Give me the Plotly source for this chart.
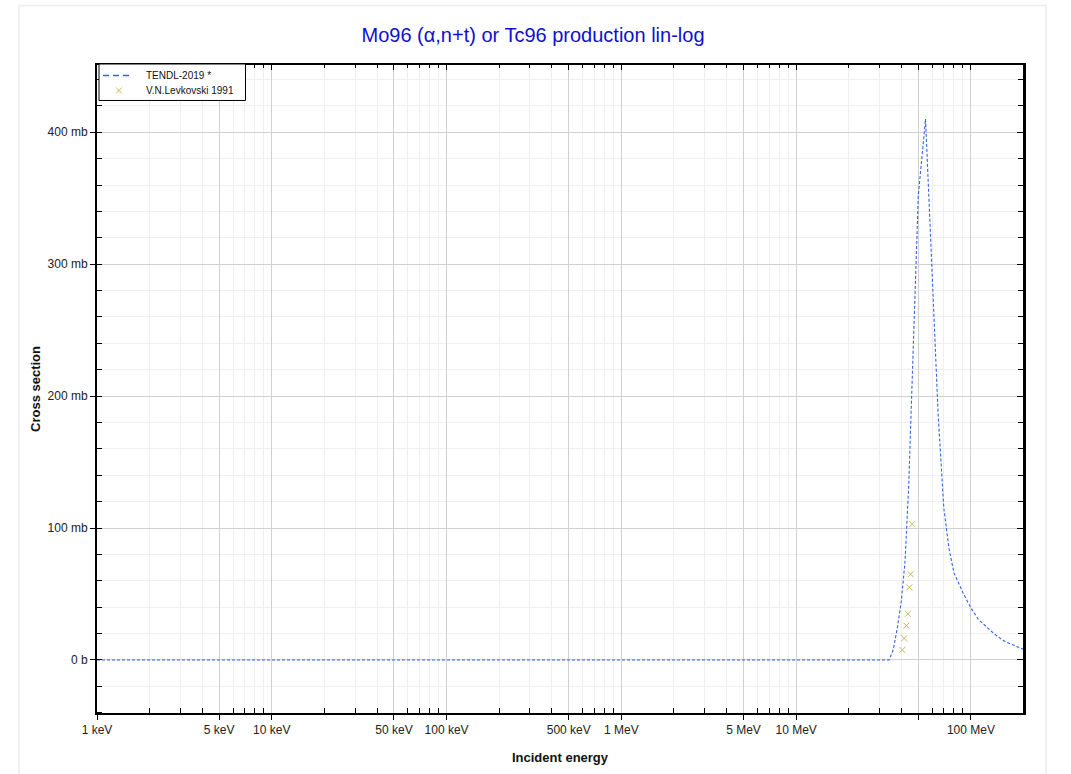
import numpy as np
import plotly.graph_objects as go

# TENDL-2019 evaluated cross section (energy in MeV, cross section in mb)
tendl_energy_mev = [0.001, 34, 36, 38, 40, 42, 44, 46, 48, 50, 55, 60, 65, 70, 75, 80,
                    85, 90, 95, 100, 110, 120, 130, 140, 150, 160, 180, 200]
tendl_xs_mb = [0, 0, 8, 25, 45, 75, 130, 205, 290, 352, 410, 290, 185, 115, 84, 66,
               58, 51, 45, 39.5, 31, 26, 22, 18.5, 15.5, 13.5, 10.5, 8]

# V.N.Levkovski 1991 experimental points
exp_energy_mev = [40.5, 41.5, 42.7, 43.6, 44.4, 45.2, 46.15]
exp_xs_mb = [7.6, 16.4, 26, 35, 55, 65, 103]

series_names = ["TENDL-2019 *", "V.N.Levkovski 1991"]

# axis ticks
x_tick_vals_ev = [1e3, 5e3, 1e4, 5e4, 1e5, 5e5, 1e6, 5e6, 1e7, 5e7, 1e8]
x_tick_text = ["1 keV", "5 keV", "10 keV", "50 keV", "100 keV", "500 keV",
               "1 MeV", "5 MeV", "10 MeV", "", "100 MeV"]
y_tick_vals_b = [0, 0.1, 0.2, 0.3, 0.4]
y_tick_text = ["0 b", "100 mb", "200 mb", "300 mb", "400 mb"]

x_minor = [m * 10.0 ** d for d in range(3, 9) for m in (2, 3, 4, 6, 7, 8, 9)]
x_minor = [v for v in x_minor if v < 2e8]
y_minor = [round(v, 3) for v in np.arange(-0.04, 0.46, 0.02)]

FONT = "Liberation Sans, Arial, sans-serif"
GRID = "#d0d0d0"
MINOR = "#efefef"
LINE_COLOR = "#3462e6"
MARK_COLOR = "#c2b85a"

# figure geometry (page body margin removed in post_script)
W, H = 1071, 774
L, R, T, B = 97, 48, 64.5, 61
PW, PH = W - L - R, H - T - B


def px(x):
    return (x - L) / PW


def py(y):
    return (T + PH - y) / PH


fig = go.Figure()
fig.add_trace(go.Scatter(
    x=np.array(tendl_energy_mev) * 1e6, y=np.array(tendl_xs_mb) / 1000,
    mode="lines", name=series_names[0], showlegend=False,
    line=dict(color=LINE_COLOR, width=1.1, dash="3px,2px"),
))
fig.add_trace(go.Scatter(
    x=np.array(exp_energy_mev) * 1e6, y=np.array(exp_xs_mb) / 1000,
    mode="markers", name=series_names[1], showlegend=False,
    marker=dict(symbol="x-thin", size=6, line=dict(color=MARK_COLOR, width=1), color=MARK_COLOR),
))
# invisible trace on overlay axes (top / right inside ticks)
fig.add_trace(go.Scatter(x=[1e4], y=[0], xaxis="x2", yaxis="y2", mode="markers",
                         marker=dict(opacity=0), showlegend=False, hoverinfo="skip"))

xr = [3, 8.298]
yr = [-0.0402, 0.451]

fig.update_layout(
    width=W, height=H,
    margin=dict(l=L, r=R, t=T, b=B, autoexpand=False),
    paper_bgcolor="white", plot_bgcolor="white",
    font=dict(family=FONT, size=12, color="#222"),
    title=dict(text="Mo96 (α,n+t) or Tc96 production lin-log", x=533 / W, xanchor="center",
               y=1 - 35 / H, yanchor="middle",
               font=dict(family=FONT, size=20, color="#1010d0")),
    showlegend=False,
    xaxis=dict(type="log", range=xr, showline=True, linecolor="black", linewidth=2,
               automargin=False,
               tickmode="array", tickvals=x_tick_vals_ev, ticktext=x_tick_text,
               ticks="outside", ticklen=5, tickcolor="black",
               showgrid=True, gridcolor=GRID, gridwidth=1, zeroline=False,
               minor=dict(tickmode="array", tickvals=x_minor, ticks="inside", ticklen=5,
                          tickcolor="black", showgrid=True, gridcolor=MINOR),
               title=dict(text="<b>Incident energy</b>", font=dict(size=13, color="#111"), standoff=16),
               tickfont=dict(size=12, color="#222")),
    yaxis=dict(range=yr, showline=True, linecolor="black", linewidth=2,
               automargin=False,
               tickmode="array", tickvals=y_tick_vals_b, ticktext=y_tick_text,
               ticks="outside", ticklen=5, tickcolor="black",
               showgrid=True, gridcolor=GRID, gridwidth=1, zeroline=False,
               minor=dict(tickmode="array", tickvals=y_minor, ticks="inside", ticklen=5,
                          tickcolor="black", showgrid=True, gridcolor=MINOR),
               title=dict(text="<b>Cross section</b>", font=dict(size=13, color="#111"), standoff=4),
               tickfont=dict(size=12, color="#222")),
    xaxis2=dict(type="log", range=xr, overlaying="x", side="top", anchor="y",
                automargin=False,
                showline=True, linecolor="black", linewidth=1.5,
                tickmode="array", tickvals=x_tick_vals_ev, ticks="inside", ticklen=5,
                tickcolor="black", showticklabels=False, showgrid=False, zeroline=False,
                minor=dict(tickmode="array", tickvals=x_minor, ticks="inside", ticklen=3,
                           tickcolor="black", showgrid=False)),
    yaxis2=dict(range=yr, overlaying="y", side="right", anchor="x",
                automargin=False,
                showline=True, linecolor="black", linewidth=2.5,
                tickmode="array", tickvals=y_tick_vals_b, ticks="inside", ticklen=6,
                tickcolor="black", showticklabels=False, showgrid=False, zeroline=False,
                minor=dict(tickmode="array", tickvals=y_minor, ticks="inside", ticklen=5,
                           tickcolor="black", showgrid=False)),
)

# light outer frame around the figure
fig.add_shape(type="rect", xref="paper", yref="paper",
              x0=px(19), x1=px(1046), y0=py(H + 20), y1=py(5),
              line=dict(color="#ececec", width=1.5), fillcolor="rgba(0,0,0,0)", layer="below")

# legend box (drawn by hand to match the compact original)
fig.add_shape(type="rect", xref="paper", yref="paper",
              x0=px(99), x1=px(245.5), y0=py(100), y1=py(63.5),
              line=dict(color="black", width=1), fillcolor="white", layer="above")
fig.add_shape(type="line", xref="paper", yref="paper",
              x0=px(103), x1=px(131), y0=py(75), y1=py(75),
              line=dict(color=LINE_COLOR, width=1.3, dash="6px,4px"), layer="above")
for dx, dy in ((1, 1), (1, -1)):
    fig.add_shape(type="line", xref="paper", yref="paper",
                  x0=px(119 - 3 * dx), x1=px(119 + 3 * dx), y0=py(90 - 3 * dy), y1=py(90 + 3 * dy),
                  line=dict(color=MARK_COLOR, width=1), layer="above")
for i, name in enumerate(series_names):
    fig.add_annotation(xref="paper", yref="paper", x=px(144), y=py(75 + 15 * i),
                       xanchor="left", yanchor="middle", showarrow=False, text=name,
                       font=dict(family=FONT, size=10, color="#111"))

fig.write_html("out.html", config={"displayModeBar": False},
               post_script="document.body.style.margin='0';document.body.style.overflow='hidden';")
